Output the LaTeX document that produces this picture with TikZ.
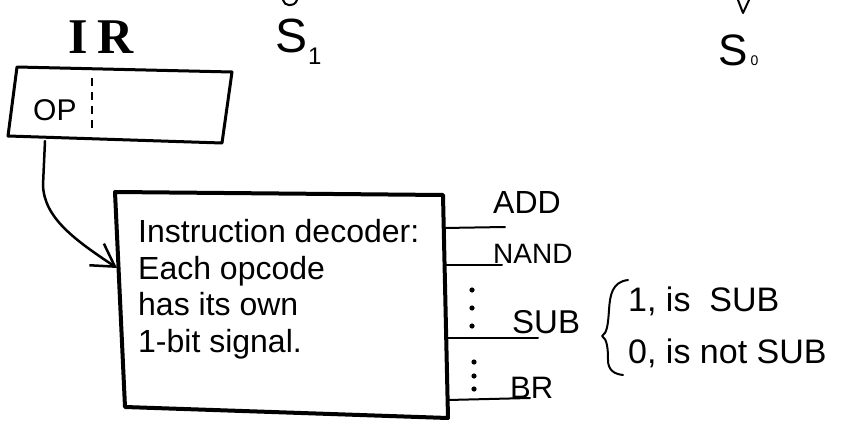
\documentclass[tikz,border=0pt]{standalone}
\usepackage{fontspec}
\setmainfont{Liberation Sans}
\newfontfamily\irfont{Liberation Serif}
\usetikzlibrary{arrows.meta}
\begin{document}
\begin{tikzpicture}[x=1pt,y=-1pt,
  thinline/.style={line width=2pt,line cap=round,line join=round},
  regline/.style={line width=3pt,line cap=round,line join=round},
  boxline/.style={line width=4pt,line cap=round,line join=round},
  lbl/.style={inner sep=0pt,anchor=base west},
  fs/.style={font=\fontsize{#1}{#1}\selectfont}]
\useasboundingbox (0,0) rectangle (841,423);

% register IR
\node[lbl,font=\irfont\bfseries\fontsize{50}{50}\selectfont] (irlabel) at (68,53) {I\kern10pt R};
\coordinate (r1) at (17,67);
\coordinate (r2) at (232,72);
\coordinate (r3) at (222,143);
\coordinate (r4) at (8,136);
\draw[regline] (r1) -- (r2) -- (r3) -- (r4) -- cycle;
\coordinate (opsplitA) at (92,78);
\coordinate (opsplitB) at (92,130);
\draw[thinline,dash pattern=on 8pt off 6pt,line cap=butt] (opsplitA) -- (opsplitB);
\node[lbl,fs=30] (op) at (33,120) {OP};

% selector labels
\node[lbl,fs=48] (s1) at (275,52) {S\kern1pt\raisebox{-13pt}{\fontsize{24}{24}\selectfont 1}};
\node[lbl,fs=44] (s0) at (718,65) {S\kern3pt\fontsize{14}{14}\selectfont 0};
\coordinate (s1in) at (290,6);
\draw[thinline] (283,0) .. controls (284,6) and (294,8) .. (297,0);
\coordinate (s0in) at (743,13);
\draw[thinline] (738,0) -- (s0in) -- (749,0);

% instruction decoder
\coordinate (d1) at (115,192);
\coordinate (d2) at (443,195);
\coordinate (d3) at (448,418);
\coordinate (d4) at (125,407);
\draw[boxline] (d1) -- (d2) -- (d3) -- (d4) -- cycle;
\node[anchor=north west,align=left,inner sep=0pt,font=\fontsize{32}{36.5}\selectfont] (dec) at (138,219.5)
  {Instruction decoder:\\Each opcode\\has its own\\1-bit signal.};

% opcode field to decoder
\coordinate (irout) at (45,141);
\coordinate (decin) at (117,268);
\draw[line width=2.5pt,line cap=round,-{Straight Barb[length=22pt,width=26pt,line width=2.5pt]}]
  (irout) -- (43,185) .. controls (44,218) and (75,240) .. (decin);

% output signals
\coordinate (addA) at (444,228);
\coordinate (addB) at (505,227);
\coordinate (nandA) at (445,265);
\coordinate (nandB) at (502,265);
\coordinate (subA) at (446,338);
\coordinate (subB) at (538,338);
\coordinate (brA) at (448,400);
\coordinate (brB) at (530,398);
\draw[thinline] (addA) -- (addB);
\draw[thinline] (nandA) -- (nandB);
\draw[thinline] (subA) -- (subB);
\draw[thinline] (brA) -- (brB);
\node[lbl,fs=32] (add) at (493,213) {ADD};
\node[lbl,fs=28] (nand) at (493,263) {NAND};
\node[lbl,fs=33] (sub) at (512,333) {SUB};
\node[lbl,fs=31] (br) at (510,398) {BR};
\foreach \y in {290,308,326} \fill (472,\y) circle (2.6pt);
\foreach \y in {362,376,389} \fill (474,\y) circle (2.6pt);

% meaning of the SUB signal
\draw[thinline] (628,280) .. controls (612,282) and (610,295) .. (609,310)
  .. controls (608,325) and (607,333) .. (602,336)
  .. controls (607,339) and (608,348) .. (608,360)
  .. controls (608,370) and (614,374) .. (623,375);
\node[lbl,fs=34] (one) at (628,311) {1, is\ \ SUB};
\node[lbl,fs=34] (zero) at (628,363) {0, is not SUB};
\end{tikzpicture}
\end{document}
